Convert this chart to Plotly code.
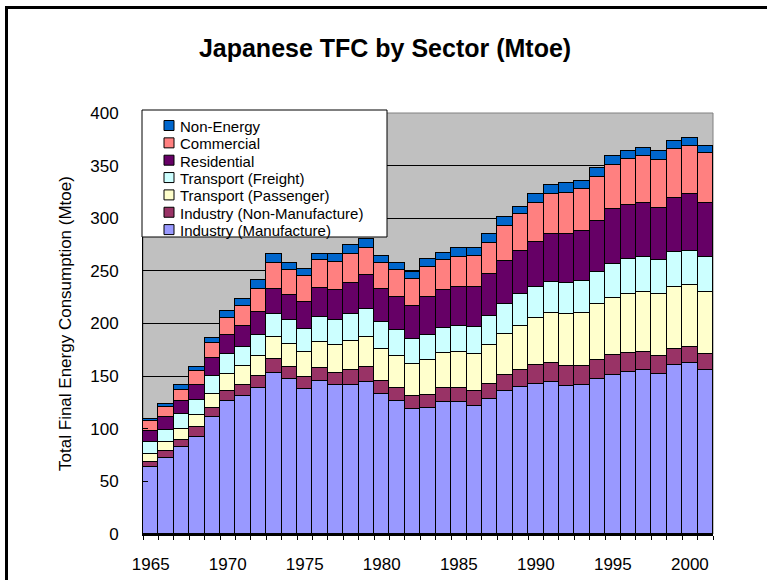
import plotly.graph_objects as go

# Japanese total final consumption by sector, Mtoe
years = list(range(1965, 2002))

ind_manufacture = [63.2, 72.1, 82.5, 92.1, 110.8, 126.0, 130.8, 138.7, 153.0, 147.3,
                   137.8, 145.7, 141.9, 141.9, 144.4, 133.3, 126.7, 119.0, 119.7, 125.4,
                   125.4, 121.9, 128.3, 136.2, 139.7, 142.9, 144.4, 141.0, 141.9, 147.6,
                   150.8, 153.7, 155.6, 152.4, 160.3, 162.5, 156.2]
ind_non_manufacture = [5.1, 6.3, 7.0, 9.2, 8.9, 10.2, 11.1, 11.8, 13.3, 11.4,
                       11.1, 12.1, 11.1, 13.7, 14.3, 12.4, 12.0, 11.8, 12.7, 13.3,
                       13.3, 13.7, 14.2, 15.2, 16.5, 18.1, 18.1, 18.4, 17.5, 18.1,
                       19.0, 18.4, 17.4, 16.5, 15.9, 15.3, 14.9]
transport_passenger = [7.9, 8.6, 10.2, 11.4, 13.3, 16.2, 17.5, 18.4, 21.0, 22.3,
                       24.1, 24.7, 26.4, 28.2, 28.6, 30.2, 30.8, 30.8, 32.7, 33.4,
                       34.3, 35.5, 36.9, 38.8, 41.9, 44.4, 47.7, 49.2, 50.8, 52.7,
                       54.6, 56.2, 57.2, 58.7, 58.7, 58.4, 59.1]
transport_freight = [11.1, 12.0, 14.0, 14.3, 17.5, 18.7, 18.4, 20.6, 21.9, 22.2,
                     22.2, 23.5, 24.4, 24.8, 26.7, 25.4, 24.2, 23.8, 24.4, 23.8,
                     24.5, 25.7, 27.6, 28.5, 29.5, 29.5, 29.5, 30.1, 30.1, 30.8,
                     32.4, 32.7, 33.3, 32.7, 33.0, 32.7, 32.7]
residential = [10.8, 12.1, 12.3, 14.9, 16.8, 18.4, 20.3, 21.6, 23.8, 23.8,
               25.4, 28.0, 27.9, 30.1, 32.0, 31.1, 31.7, 31.7, 35.9, 35.8,
               37.4, 38.1, 39.7, 40.7, 41.3, 42.9, 45.1, 46.1, 47.6, 48.6,
               51.8, 51.4, 50.8, 49.9, 51.8, 54.0, 52.0]
commercial = [8.9, 9.5, 11.1, 12.7, 14.3, 15.3, 18.4, 21.9, 24.8, 23.8,
              24.5, 26.3, 26.7, 27.6, 26.1, 25.4, 25.1, 24.8, 28.3, 28.6,
              28.6, 29.2, 30.1, 33.3, 34.9, 37.1, 38.7, 39.6, 39.7, 41.2,
              42.2, 43.8, 44.4, 45.4, 46.0, 46.0, 46.7]
non_energy = [2.5, 3.2, 4.8, 4.1, 4.7, 6.9, 7.0, 8.3, 7.9, 7.0,
              7.0, 6.0, 7.3, 8.0, 7.9, 6.3, 7.3, 7.3, 7.3, 7.0,
              7.9, 7.3, 8.0, 8.9, 7.3, 8.6, 8.2, 8.9, 8.0, 8.6,
              8.6, 7.3, 7.6, 7.9, 7.3, 7.0, 6.7]

series = [
    ("Industry (Manufacture)", ind_manufacture, "#9999FF"),
    ("Industry (Non-Manufacture)", ind_non_manufacture, "#993366"),
    ("Transport (Passenger)", transport_passenger, "#FFFFCC"),
    ("Transport (Freight)", transport_freight, "#CCFFFF"),
    ("Residential", residential, "#660066"),
    ("Commercial", commercial, "#FF8080"),
    ("Non-Energy", non_energy, "#0066CC"),
]

year_labels = [str(y) for y in years]
tick_text = [y if int(y) % 5 == 0 else "" for y in year_labels]

font_family = "Arial, Liberation Sans, sans-serif"

# plot area in page pixels
W, H = 767, 580
PL, PR, PT, PB = 143, 713, 113, 534


def px_x(px):
    return (px - PL) / (PR - PL)


def px_y(py):
    return (PB - py) / (PB - PT)


fig = go.Figure()
for name, values, color in series:
    fig.add_trace(go.Bar(
        x=year_labels, y=values, name=name, showlegend=False,
        marker=dict(color=color, line=dict(color="black", width=1)),
    ))

# Excel-style legend box (tighter rows than plotly's own legend allows)
shapes = [
    # plot area border
    dict(type="rect", xref="paper", yref="paper", x0=0, x1=1, y0=0, y1=1,
         line=dict(color="#808080", width=1), layer="below"),
    # outer chart frame
    dict(type="rect", xref="paper", yref="paper",
         x0=px_x(6.5), x1=px_x(800), y0=px_y(620), y1=px_y(7.5),
         line=dict(color="black", width=3)),
    # legend box
    dict(type="rect", xref="paper", yref="paper",
         x0=px_x(142), x1=px_x(387), y0=px_y(237), y1=px_y(110),
         fillcolor="white", line=dict(color="black", width=1)),
]
annotations = []
row_top, row_step = 126.5, 17.35
for i, (name, values, color) in enumerate(reversed(series)):
    cy = row_top + i * row_step
    shapes.append(dict(type="rect", xref="paper", yref="paper",
                       x0=px_x(164), x1=px_x(174), y0=px_y(cy + 4), y1=px_y(cy - 6),
                       fillcolor=color, line=dict(color="black", width=1)))
    annotations.append(dict(text=name, xref="paper", yref="paper",
                            x=px_x(178), y=px_y(cy), xanchor="left", yanchor="middle",
                            showarrow=False, font=dict(size=15, color="black")))

fig.update_layout(
    width=W, height=H,
    barmode="stack", bargap=0,
    paper_bgcolor="white", plot_bgcolor="#C0C0C0",
    margin=dict(l=PL, r=W - PR, t=PT, b=H - PB),
    font=dict(family=font_family, size=14, color="black"),
    title=dict(text="<b>Japanese TFC by Sector (Mtoe)</b>", x=0.502, xanchor="center",
               y=0.917, yanchor="middle", font=dict(size=25, color="black")),
    showlegend=False,
    shapes=shapes,
    annotations=annotations,
)

fig.update_xaxes(
    type="category", tickmode="array", tickvals=year_labels, ticktext=tick_text,
    tickangle=0, tickson="boundaries", ticks="outside", ticklen=4, tickcolor="black",
    showline=True, linecolor="black", linewidth=2, showgrid=False,
    tickfont=dict(size=17), ticklabelstandoff=14, automargin=False,
)
fig.update_yaxes(
    range=[0, 400], dtick=50, ticks="inside", ticklen=5, tickcolor="black",
    showline=True, linecolor="black", linewidth=1,
    showgrid=True, gridcolor="black", gridwidth=1, zeroline=False,
    title=dict(text="Total Final Energy Consumption (Mtoe)", font=dict(size=17), standoff=14),
    tickfont=dict(size=17), ticklabelstandoff=20, automargin=False,
)

# drop the browser's default body margin so the figure sits at the page origin
fig.write_html("out.html", config={"displayModeBar": False},
               post_script="document.body.style.margin = '0';")
